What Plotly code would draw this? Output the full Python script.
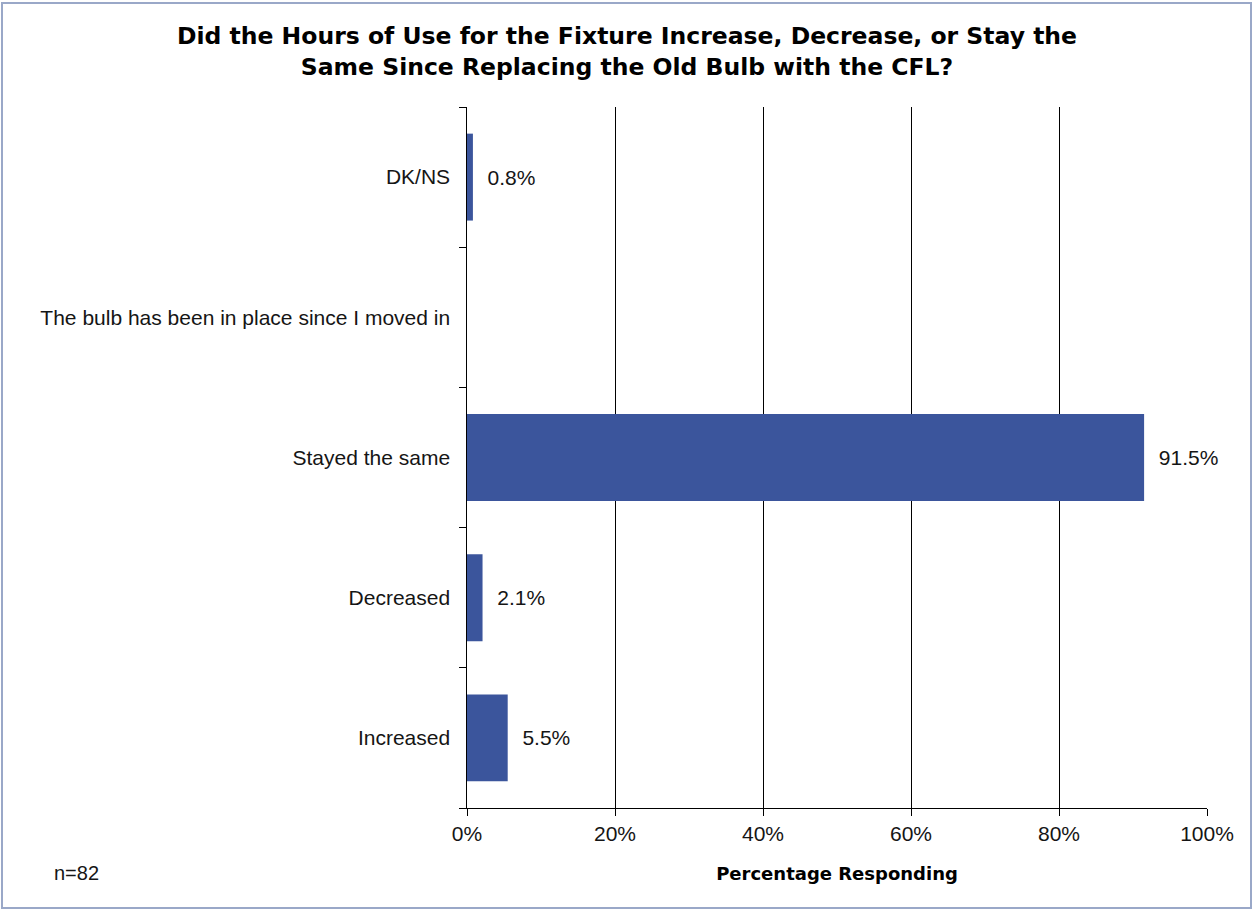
import plotly.graph_objects as go

categories = ["Increased", "Decreased", "Stayed the same",
              "The bulb has been in place since I moved in", "DK/NS"]
values = [5.5, 2.1, 91.5, 0.0, 0.8]
tick_vals = [0, 20, 40, 60, 80, 100]
tick_text = ["0%", "20%", "40%", "60%", "80%", "100%"]

labels = ["\u00a0\u00a0" + f"{v:.1f}%" if v > 0 else "" for v in values]

FONT = "Liberation Sans, Arial, sans-serif"
BOLD = "DejaVu Sans, Verdana, sans-serif"
W, H = 1254, 911
ML, MR, MT, MB = 467, 47, 107, 103
PW, PH = W - ML - MR, H - MT - MB

def px_x(p):
    return (p - ML) / PW

def px_y(p):
    return (H - MB - p) / PH

fig = go.Figure()
fig.add_trace(go.Bar(
    y=categories, x=values, orientation="h",
    marker=dict(color="#3B559C", line=dict(width=0)),
    width=0.62,
    text=labels, textposition="outside",
    textfont=dict(family=FONT, size=21, color="#151515"),
    cliponaxis=False,
))

fig.update_layout(
    width=W, height=H,
    margin=dict(l=ML, r=MR, t=MT, b=MB),
    paper_bgcolor="white", plot_bgcolor="white",
    showlegend=False,
    title=dict(
        text="<b>Did the Hours of Use for the Fixture Increase, Decrease, or Stay the<br>Same Since Replacing the Old Bulb with the CFL?</b>",
        x=0.5, xanchor="center", y=1 - 44 / H, yanchor="top",
        font=dict(family=BOLD, size=23.5, color="#000000"),
    ),
    xaxis=dict(
        range=[0, 100], tickvals=tick_vals, ticktext=tick_text,
        showgrid=True, gridcolor="#000000", gridwidth=1,
        showline=True, linecolor="#000000", linewidth=1,
        ticks="outside", ticklen=7, tickcolor="#000000",
        tickfont=dict(family=FONT, size=21, color="#151515"),
        title=dict(text="<b>Percentage Responding</b>", standoff=23,
                   font=dict(family=BOLD, size=18, color="#000000")),
        zeroline=False, fixedrange=True,
    ),
    yaxis=dict(
        type="category", categoryorder="array", categoryarray=categories,
        showline=True, linecolor="#000000", linewidth=1,
        ticks="outside", ticklen=7, tickcolor="#000000",
        tickson="boundaries", showgrid=False,
        tickfont=dict(family=FONT, size=21, color="#151515"),
        ticksuffix="  ",
    ),
    annotations=[dict(
        text="n=82", xref="paper", yref="paper",
        x=px_x(52), y=px_y(873), xanchor="left", yanchor="middle",
        showarrow=False, font=dict(family=FONT, size=20, color="#151515"),
    )],
    shapes=[dict(
        type="rect", xref="paper", yref="paper",
        x0=px_x(2), x1=px_x(1251), y0=px_y(908), y1=px_y(3),
        line=dict(color="#9AA8C8", width=2), layer="below",
    )],
)

fig.write_html("out.html")
